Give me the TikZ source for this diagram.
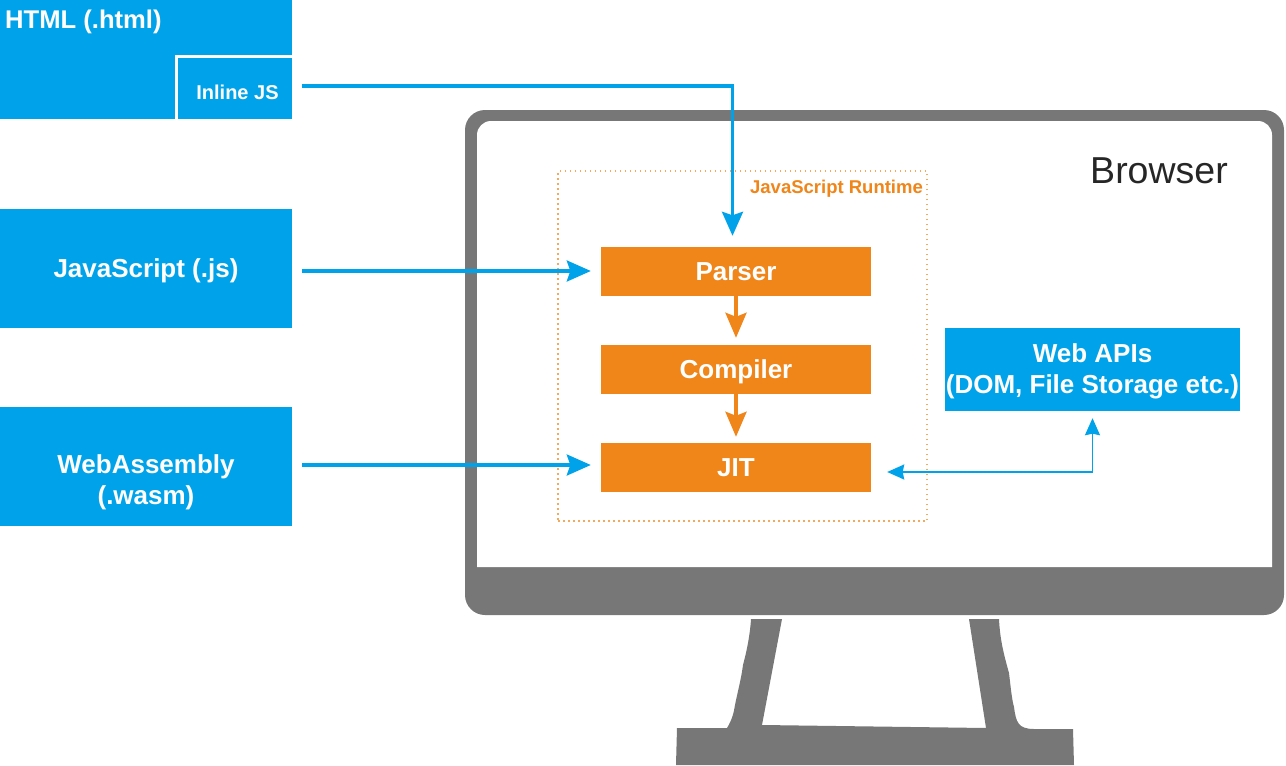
\documentclass[tikz,border=0pt]{standalone}
\usepackage{fontspec}
\setmainfont{Liberation Sans}
\usetikzlibrary{arrows.meta}
\definecolor{wblue}{HTML}{00A3E9}
\definecolor{worange}{HTML}{F08519}
\definecolor{wgray}{HTML}{777777}
\tikzset{
  lbl/.style={font=\bfseries\fontsize{26}{31}\selectfont,text=white,align=center,inner sep=0pt},
  caps/.style={text height=18.6pt,text depth=0pt},
  bluebox/.style={fill=wblue,inner sep=0pt,lbl},
  filebox/.style={bluebox,minimum width=292pt,minimum height=119pt},
  orangebox/.style={fill=worange,lbl,caps,minimum width=270pt,minimum height=49pt},
  bigblue/.style={draw=wblue,line width=3.2pt,-{Stealth[length=24pt,width=21pt,inset=3.5pt]}},
  bigorange/.style={draw=worange,line width=3.5pt,-{Stealth[length=25pt,width=21pt,inset=4pt]}},
  thinblue/.style={draw=wblue,line width=1.5pt,{Stealth[length=17pt,width=15pt,inset=1.5pt]}-{Stealth[length=17pt,width=15pt,inset=1.5pt]}},
}
\begin{document}
\begin{tikzpicture}[x=1pt,y=-1pt]
\useasboundingbox (0,0) rectangle (1286,766);
% monitor
\fill[wgray,rounded corners=20pt] (465,110) rectangle (1284,615);
\fill[white] (477,567) [rounded corners=14pt] -- (477,121) -- (1272,121) [sharp corners] -- (1272,567) -- cycle;
% stand
\fill[wgray] (751,619) -- (782,619) -- (762,725) -- (986,728) -- (969,619) -- (999,619)
  .. controls (1000,640) and (1004,655) .. (1009,673)
  .. controls (1011,690) and (1012,700) .. (1014,707)
  .. controls (1016,722) and (1018,729) .. (1034,729)
  -- (1073,729) -- (1074,765) -- (676,765) -- (677,728) -- (727,728)
  .. controls (732,720) and (734,712) .. (735,705)
  .. controls (738,690) and (741,680) .. (743,665)
  .. controls (747,650) and (750,635) .. (751,619) -- cycle;
% file boxes
\node[filebox] (html) at (146,59.5) {};
\node[lbl,caps,anchor=west,font=\bfseries\fontsize{25.6}{30}\selectfont] (htmllabel) at (5,19.5) {HTML (.html)};
\node[bluebox,draw=white,line width=3pt,minimum width=117pt,minimum height=64pt] (inline) at (235,88) {};
\node[lbl,font=\bfseries\fontsize{20}{24}\selectfont] (inlinelabel) at (237.5,92) {Inline JS};
\node[filebox,caps] (js) at (146,268.5) {JavaScript (.js)};
\node[filebox] (wasm) at (146,466.5) {};
\node[lbl] (wasmlabel) at (146,482) {WebAssembly\\(.wasm)};
% runtime
\node[draw=worange!70,line width=1.5pt,dash pattern=on 1.5pt off 3.5pt,inner sep=0pt,minimum width=369pt,minimum height=350pt] (runtime) at (742.5,346) {};
\node[font=\bfseries\fontsize{18.5}{22}\selectfont,text=worange,inner sep=0pt,text height=13.2pt,text depth=0pt] (rtlabel) at (836.5,186.7) {JavaScript Runtime};
\node[orangebox] (parser) at (736,271.5) {Parser};
\node[orangebox] (compiler) at (736,369.5) {Compiler};
\node[orangebox] (jit) at (736,467.5) {JIT};
\node[bluebox,minimum width=295pt,minimum height=83pt] (api) at (1092.5,369.5) {\rule{0pt}{22pt}Web APIs\\(DOM, File Storage etc.)};
\node[font=\fontsize{37.5}{40}\selectfont,text=black!85,inner sep=0pt] (browser) at (1159,171) {Browser};
% connectors
\draw[bigblue] ([xshift=6.5pt,yshift=2pt]inline.east) -| ([xshift=-3.5pt,yshift=11pt]parser.north);
\draw[bigblue] ([xshift=10pt,yshift=-2.5pt]js.east) -- ([xshift=-10pt,yshift=0.5pt]parser.west);
\draw[bigblue] ([xshift=10pt,yshift=1.5pt]wasm.east) -- ([xshift=-10pt,yshift=2.5pt]jit.west);
\draw[bigorange] (parser.south) -- ([yshift=7pt]compiler.north);
\draw[bigorange] (compiler.south) -- ([yshift=6pt]jit.north);
\draw[thinblue] ([xshift=16pt,yshift=-4.5pt]jit.east) -| ([yshift=-7pt]api.south);
\end{tikzpicture}
\end{document}
